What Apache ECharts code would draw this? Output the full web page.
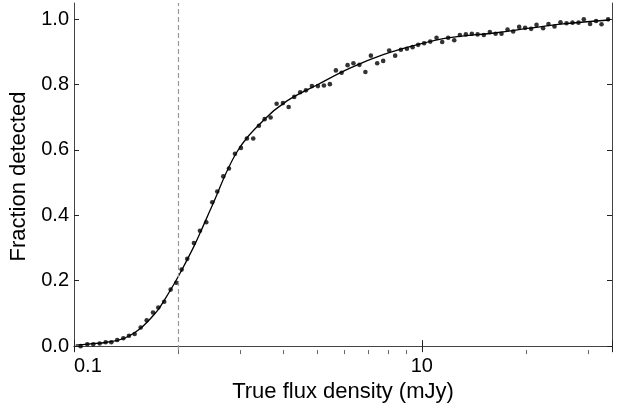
<!DOCTYPE html>
<html>
<head>
<meta charset="utf-8">
<script src="https://cdn.jsdelivr.net/npm/echarts@6/dist/echarts.min.js"></script>
<style>
html,body{margin:0;padding:0;background:#fff;}
#chart{width:620px;height:408px;}
</style>
</head>
<body>
<div id="chart"></div>
<script>
// Measured points: true flux density (mJy) and fraction detected
var pointX = [1.045,1.092,1.136,1.185,1.233,1.280,1.331,1.386,1.439,1.494,
  1.555,1.618,1.687,1.747,1.817,1.896,1.968,2.039,2.116,2.212,
  2.302,2.400,2.497,2.581,2.686,2.789,2.902,3.019,3.141,3.275,
  3.401,3.532,3.675,3.824,3.987,4.140,4.296,4.470,4.642,4.830,
  5.025,5.229,5.440,5.661,5.879,6.116,6.356,6.614,6.881,7.136,
  7.440,7.741,8.054,8.380,8.702,9.057,9.404,9.758,10.15,10.57,
  11.02,11.44,11.90,12.39,12.86,13.38,13.92,14.46,15.07,15.68,
  16.29,16.94,17.63,18.30,19.04,19.81,20.61,21.36,22.31,23.12,
  24.06,25.03,26.05,27.10,28.20,29.21,30.45,31.68,32.84,34.31];
var pointY = [0.000,0.006,0.006,0.008,0.012,0.012,0.019,0.024,0.032,0.037,
  0.057,0.079,0.103,0.118,0.136,0.173,0.194,0.234,0.267,0.315,
  0.353,0.379,0.440,0.473,0.519,0.543,0.588,0.606,0.635,0.635,
  0.674,0.694,0.699,0.741,0.743,0.731,0.762,0.776,0.782,0.795,
  0.795,0.797,0.801,0.843,0.836,0.859,0.865,0.860,0.838,0.888,
  0.865,0.872,0.904,0.888,0.906,0.909,0.914,0.921,0.926,0.931,
  0.943,0.930,0.943,0.935,0.951,0.953,0.955,0.953,0.951,0.960,
  0.955,0.955,0.968,0.962,0.976,0.973,0.970,0.982,0.972,0.985,
  0.977,0.990,0.987,0.989,0.989,0.999,0.985,0.994,0.984,0.999];

// Fitted curve
var curveX = [1.011,1.112,1.244,1.401,1.555,1.735,1.817,1.939,2.039,2.212,2.302,2.497,2.934,3.500,4.085,5.025,6.213,7.741,9.656,12.03,16.39,20.43,25.46,34.62];
var curveY = [0.003,0.007,0.012,0.025,0.055,0.108,0.140,0.190,0.232,0.305,0.345,0.430,0.592,0.690,0.749,0.800,0.850,0.891,0.921,0.943,0.958,0.972,0.985,0.997];

var thresholdX = 2.0;

var xMin = 1, xMax = 35.2;
var xMajorTicks = [1, 10];
var xMajorLabels = ['0.1', '10'];
var xMinorTicks = [2,3,4,5,6,7,8,9,20,30];
var yTicks = [0, 0.2, 0.4, 0.6, 0.8, 1.0];
var yMin = -0.012, yMax = 1.049;

var xLabel = 'True flux density (mJy)';
var yLabel = 'Fraction detected';

var frameColor = '#444';
var font = 'Liberation Sans, Arial, sans-serif';

function pairs(xs, ys){ return xs.map(function(x,i){ return [x, ys[i]]; }); }

var chart = echarts.init(document.getElementById('chart'), null, {renderer:'canvas'});
chart.setOption({
  animation: false,
  backgroundColor: '#fff',
  grid: {left: 74, right: 8, top: 3, bottom: 56, containLabel: false},
  xAxis: [
    {
      type: 'log', logBase: 10, min: xMin, max: xMax, position: 'bottom',
      name: xLabel, nameLocation: 'middle', nameGap: 27,
      nameTextStyle: {fontFamily: font, fontSize: 22, color: '#000'},
      axisLine: {show: true, lineStyle: {color: frameColor, width: 1}},
      axisTick: {show: true, inside: true, length: 6, lineStyle: {color: '#222'}},
      axisLabel: {
        show: true, fontFamily: font, fontSize: 20, color: '#000', margin: 6,
        alignMinLabel: 'left',
        formatter: function(v){ var i = xMajorTicks.indexOf(Math.round(v*1000)/1000); return i >= 0 ? xMajorLabels[i] : ''; }
      },
      splitLine: {show: false}
    },
    {
      type: 'log', logBase: 10, min: xMin, max: xMax, position: 'top',
      axisLine: {show: true, lineStyle: {color: frameColor, width: 1}},
      axisTick: {show: true, inside: true, length: 6, lineStyle: {color: '#222'}},
      axisLabel: {show: false},
      splitLine: {show: false}
    },
    {
      type: 'value', min: Math.log10(xMin), max: Math.log10(xMax), position: 'bottom',
      axisLine: {show: false},
      axisTick: {show: true, inside: false, length: 4, lineStyle: {color: '#666'},
        customValues: xMinorTicks.map(function(v){ return Math.log10(v); })},
      axisLabel: {show: false},
      splitLine: {show: false}
    }
  ],
  yAxis: [
    {
      type: 'value', min: yMin, max: yMax, position: 'left',
      name: yLabel, nameLocation: 'middle', nameGap: 43, nameRotate: 90,
      nameTextStyle: {fontFamily: font, fontSize: 22, color: '#000'},
      axisLine: {show: true, lineStyle: {color: frameColor, width: 1}},
      axisTick: {show: true, inside: true, length: 5, lineStyle: {color: '#222'}, customValues: yTicks},
      axisLabel: {show: true, fontFamily: font, fontSize: 20, color: '#000', margin: 5,
        customValues: yTicks, formatter: function(v){ return v.toFixed(1); }},
      splitLine: {show: false}
    },
    {
      type: 'value', min: yMin, max: yMax, position: 'right',
      axisLine: {show: true, lineStyle: {color: frameColor, width: 1}},
      axisTick: {show: true, inside: true, length: 5, lineStyle: {color: '#222'}, customValues: yTicks},
      axisLabel: {show: false},
      splitLine: {show: false}
    }
  ],
  series: [
    {
      type: 'line', xAxisIndex: 0, yAxisIndex: 0,
      data: pairs(curveX, curveY), smooth: 0.4, showSymbol: false, symbol: 'none',
      lineStyle: {color: '#000', width: 1.3},
      markLine: {
        silent: true, symbol: ['none','none'], label: {show: false},
        lineStyle: {type: [5, 3], color: '#999', width: 1.2},
        data: [{xAxis: thresholdX}]
      },
      z: 3
    },
    {
      type: 'scatter', xAxisIndex: 0, yAxisIndex: 0,
      data: pairs(pointX, pointY), symbol: 'circle', symbolSize: 4.6,
      itemStyle: {color: '#000'}, z: 4
    }
  ]
});
</script>
</body>
</html>
